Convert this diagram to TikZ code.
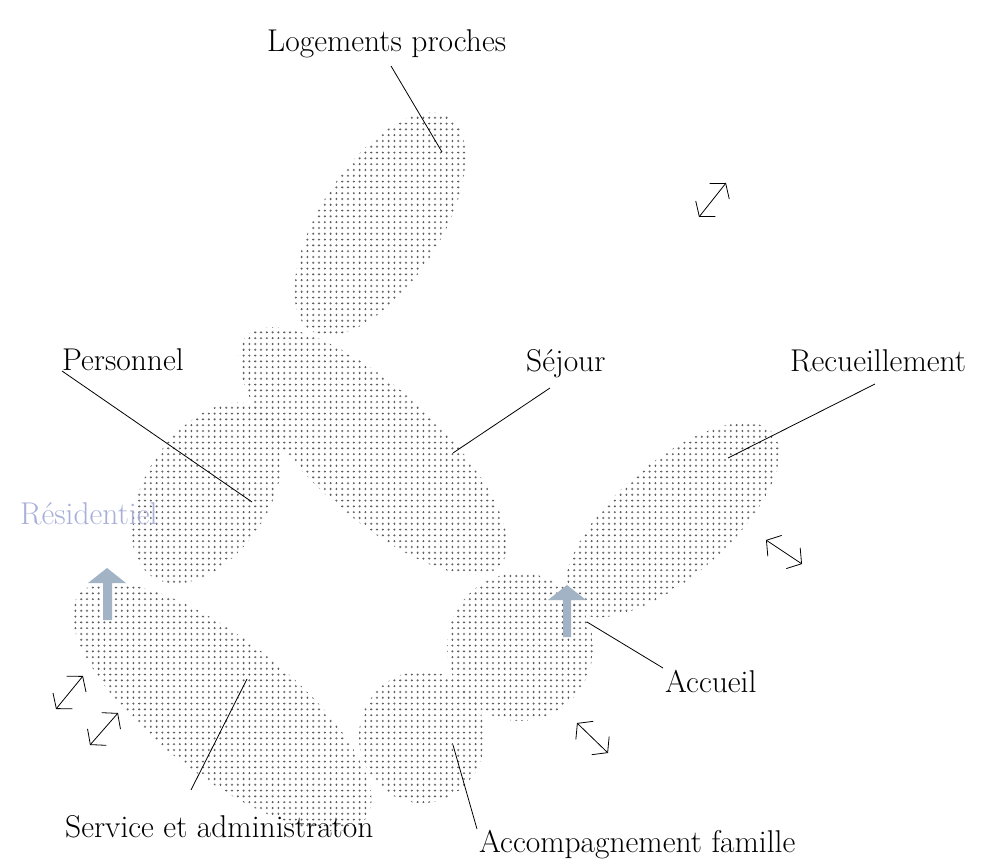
\documentclass[tikz,border=0pt]{standalone}
\usetikzlibrary{patterns,arrows.meta,shapes.geometric}
\pgfdeclarepatternformonly{blobdots}{\pgfqpoint{-1.2pt}{-1.2pt}}{\pgfqpoint{1.2pt}{1.2pt}}{\pgfqpoint{5.8pt}{5.8pt}}{%
  \pgfpathrectangle{\pgfqpoint{-1.05pt}{-0.4pt}}{\pgfqpoint{2.1pt}{0.8pt}}%
  \pgfpathrectangle{\pgfqpoint{-0.4pt}{-1.05pt}}{\pgfqpoint{0.8pt}{2.1pt}}%
  \pgfusepath{fill}}
\definecolor{arrowblue}{RGB}{163,179,198}
\definecolor{resid}{RGB}{168,176,216}
\tikzset{
  blob/.style={ellipse, draw=none, inner sep=0pt, pattern=blobdots, pattern color=black!62},
  lbl/.style={inner sep=0pt, anchor=base west, font=\fontsize{31.5}{36}\selectfont, text=black},
  leader/.style={draw=black, line width=0.8pt},
  dbl/.style={draw=black, line width=0.8pt, {Straight Barb[length=10pt,width=25pt]}-{Straight Barb[length=10pt,width=25pt]}},
  bigarrow/.style={fill=arrowblue, draw=none}
}
\begin{document}
\begin{tikzpicture}[x=1pt,y=1pt]
\fill[white] (0,0) rectangle (999,-866);
\useasboundingbox (0,0) rectangle (999,-866);

% zones
\node[blob, minimum width=254pt, minimum height=120pt, rotate=57] (logements) at (380,-224) {};
\node[blob, minimum width=342pt, minimum height=128pt, rotate=-42] (sejour) at (373,-451) {};
\node[blob, minimum width=200pt, minimum height=124pt, rotate=57] (personnel) at (207,-493) {};
\node[blob, minimum width=364pt, minimum height=136pt, rotate=-38] (service) at (222,-707) {};
\node[blob, minimum width=126pt, minimum height=132pt] (famille) at (422,-737) {};
\node[blob, minimum width=146pt, minimum height=148pt] (accueil) at (520,-647) {};
\node[blob, minimum width=266pt, minimum height=114pt, rotate=41] (recueil) at (672,-520) {};

% labels
\node[lbl] (tlog) at (267,-52) {Logements proches};
\node[lbl] (tper) at (62,-371) {Personnel};
\node[lbl] (tsej) at (526,-372) {Séjour};
\node[lbl] (trec) at (790,-372) {Recueillement};
\node[lbl] (tacc) at (665,-692) {Accueil};
\node[lbl] (tfam) at (479,-852) {Accompagnement famille};
\node[lbl] (tser) at (65,-837) {Service et administraton};
\node[lbl, text=resid] (tres) at (20,-524) {Résidentiel};

% leader ends
\coordinate (log-a) at (391,-66);  \coordinate (log-b) at (442,-152);
\coordinate (per-b) at (252,-502);
\coordinate (sej-a) at (550,-388); \coordinate (sej-b) at (453,-453);
\coordinate (rec-a) at (875,-384); \coordinate (rec-b) at (728,-458);
\coordinate (acc-a) at (663,-668); \coordinate (acc-b) at (587,-622);
\coordinate (fam-a) at (477,-829); \coordinate (fam-b) at (453,-745);
\coordinate (ser-a) at (191,-790); \coordinate (ser-b) at (247,-679);

\draw[leader] (log-a) -- (log-b);
\draw[leader] (tper.base west) -- (per-b);
\draw[leader] (sej-a) -- (sej-b);
\draw[leader] (rec-a) -- (rec-b);
\draw[leader] (acc-a) -- (acc-b);
\draw[leader] (fam-a) -- (fam-b);
\draw[leader] (ser-a) -- (ser-b);

% blue-grey up arrows
\fill[bigarrow] (103,-620) -- (103,-583) -- (88,-583) -- (107,-568) -- (126,-583) -- (112,-583) -- (112,-620) -- cycle;
\fill[bigarrow] (563,-637) -- (563,-600) -- (548,-600) -- (567,-585) -- (586,-600) -- (571,-600) -- (571,-637) -- cycle;

% small double arrows
\coordinate (d1a) at (699,-217); \coordinate (d1b) at (726,-183);
\coordinate (d2a) at (56,-709);  \coordinate (d2b) at (83,-676);
\coordinate (d3a) at (90,-745);  \coordinate (d3b) at (118,-713);
\coordinate (d4a) at (766,-540); \coordinate (d4b) at (802,-564);
\coordinate (d5a) at (577,-723); \coordinate (d5b) at (608,-753);
\draw[dbl] (d1a) -- (d1b);
\draw[dbl] (d2a) -- (d2b);
\draw[dbl] (d3a) -- (d3b);
\draw[dbl] (d4a) -- (d4b);
\draw[dbl] (d5a) -- (d5b);
\end{tikzpicture}
\end{document}
